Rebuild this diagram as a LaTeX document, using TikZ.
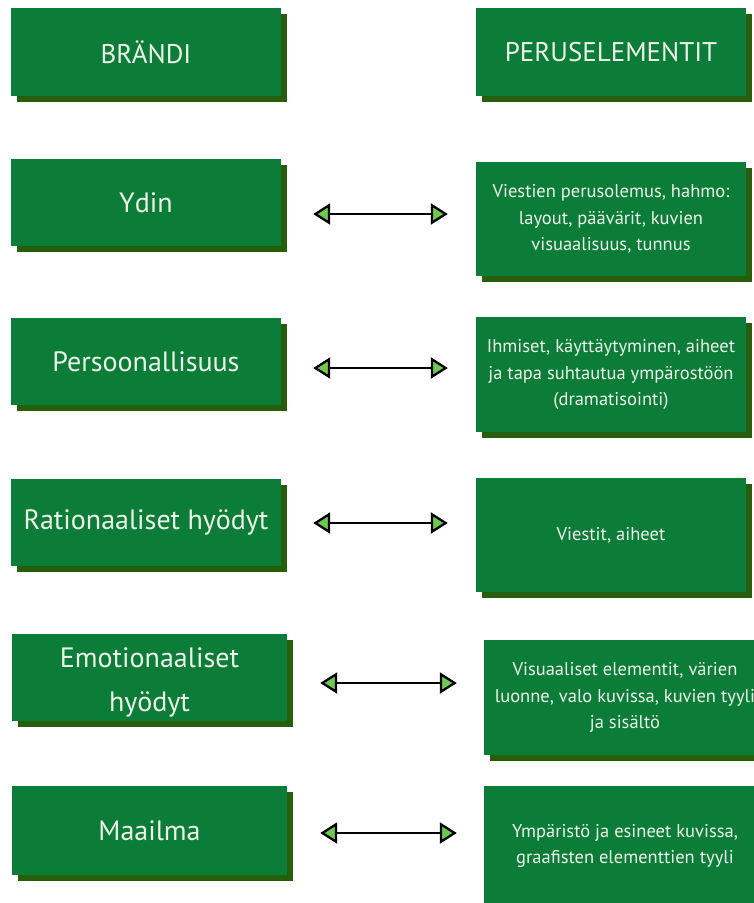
\documentclass[tikz,border=0pt]{standalone}
\usepackage{fontspec}
\setmainfont{PT Sans}
\usetikzlibrary{arrows.meta,shadows}

\definecolor{cardgreen}{HTML}{0B7D39}
\definecolor{cardshadow}{HTML}{265E0C}
\definecolor{cardtext}{HTML}{EEF3E8}
\definecolor{tipgreen}{HTML}{6CCB4E}

\tikzset{
  card/.style={fill=cardgreen, text=cardtext, align=center, inner sep=0pt,
    drop shadow={fill=cardshadow, opacity=1, shadow xshift=6pt, shadow yshift=-6pt}},
  brandcard/.style={card, minimum width=270pt, minimum height=87pt,
    font=\fontsize{28}{44}\selectfont},
  elemcard/.style={card, minimum width=270pt, minimum height=115pt,
    font=\fontsize{18.5}{26.5}\selectfont},
  headcard/.style={card, minimum width=270pt, minimum height=88pt,
    font=\fontsize{27}{30}\selectfont},
  link/.style={line width=2.3pt, black, {Triangle[length=17pt,width=21pt,fill=tipgreen]}-{Triangle[length=17pt,width=21pt,fill=tipgreen]}}
}

\begin{document}
\begin{tikzpicture}[x=1pt,y=-1pt]
  \useasboundingbox[fill=white] (0,0) rectangle (753,903);

  % column headings
  \node[headcard] (brand) at (146,52) {BRÄNDI};
  \node[headcard] (elem)  at (611,52) {PERUSELEMENTIT};

  % brand layers (left column)
  \node[brandcard] (ydin) at (146,202.5) {Ydin};
  \node[brandcard] (pers) at (146,361.5) {Persoonallisuus};
  \node[brandcard] (rat)  at (146,522.5) {Rationaaliset hyödyt};
  % a tall strut on the first line lowers the two-line text a little
  \node[brandcard, minimum width=275pt] (emo) at (149.5,677)
    {\rule{0pt}{30pt}Emotionaaliset\\hyödyt};
  \node[brandcard, minimum width=275pt, minimum height=89pt] (maa) at (149.5,830.5) {Maailma};

  % basic elements (right column)
  \node[elemcard, minimum height=114pt] (e1) at (611,219)
    {Viestien perusolemus, hahmo:\\layout, päävärit, kuvien\\visuaalisuus, tunnus};
  \node[elemcard] (e2) at (611,374.5)
    {Ihmiset, käyttäytyminen, aiheet\\ja tapa suhtautua ympärostöön\\(dramatisointi)};
  \node[elemcard, minimum height=114pt] (e3) at (611,535) {Viestit, aiheet};
  \node[elemcard, minimum width=282pt] (e4) at (625,697.5)
    {Visuaaliset elementit, värien\\luonne, valo kuvissa, kuvien tyyli\\ja sisältö};
  \node[elemcard, minimum width=282pt, minimum height=120pt] (e5) at (625,846)
    {Ympäristö ja esineet kuvissa,\\graafisten elementtien tyyli};

  % two-way links between the columns
  \draw[link, shorten <=32pt, shorten >=28pt] (ydin.east |- 0,214) -- (e1.west |- 0,214);
  \draw[link, shorten <=32pt, shorten >=28pt] (pers.east |- 0,368) -- (e2.west |- 0,368);
  \draw[link, shorten <=32pt, shorten >=28pt] (rat.east |- 0,523)  -- (e3.west |- 0,523);
  \draw[link, shorten <=33pt, shorten >=27pt] (emo.east |- 0,683)  -- (e4.west |- 0,683);
  \draw[link, shorten <=33pt, shorten >=27pt] (maa.east |- 0,833)  -- (e5.west |- 0,833);
\end{tikzpicture}
\end{document}
